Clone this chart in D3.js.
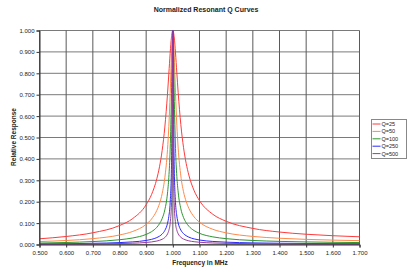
<!DOCTYPE html>
<html><head><meta charset="utf-8">
<script src="https://cdn.jsdelivr.net/npm/d3@7"></script>
<style>body{margin:0;background:#fff}svg{display:block;font-family:"Liberation Sans",Arial,sans-serif}</style>
</head><body><svg id="c" width="408" height="268"></svg>
<script>
const freq = [0.50,0.60,0.70,0.80,0.85,0.90,0.92,0.94,0.95,0.96,0.97,0.98,0.985,0.99,0.995,0.998,1.000,1.002,1.005,1.01,1.015,1.02,1.03,1.04,1.05,1.06,1.08,1.10,1.15,1.20,1.30,1.40,1.50,1.60,1.70];
const q25  = [0.0267,0.0375,0.0548,0.0885,0.1216,0.1861,0.2330,0.3074,0.3631,0.4398,0.5488,0.7035,0.7978,0.8935,0.9700,0.9950,1,0.9950,0.9703,0.8953,0.8021,0.7106,0.5603,0.4542,0.3792,0.3245,0.2513,0.2051,0.1412,0.1084,0.0752,0.0582,0.0479,0.0410,0.0360];
const q50  = [0.0133,0.0187,0.0274,0.0444,0.0612,0.0943,0.1189,0.1594,0.1913,0.2379,0.3119,0.4436,0.5518,0.7053,0.8940,0.9806,1,0.9806,0.8949,0.7089,0.5576,0.4507,0.3204,0.2470,0.2007,0.1691,0.1287,0.1042,0.0711,0.0545,0.0377,0.0292,0.0240,0.0205,0.0180];
const q100 = [0.0067,0.0094,0.0137,0.0222,0.0306,0.0473,0.0598,0.0805,0.0970,0.1215,0.1620,0.2402,0.3141,0.4454,0.7062,0.9283,1,0.9286,0.7080,0.4490,0.3183,0.2448,0.1668,0.1264,0.1019,0.0854,0.0648,0.0523,0.0357,0.0273,0.0188,0.0146,0.0120,0.0103,0.0090];
const q250 = [0.0027,0.0037,0.0055,0.0089,0.0123,0.0189,0.0240,0.0323,0.0389,0.0489,0.0655,0.0985,0.1312,0.1952,0.3706,0.7067,1,0.7075,0.3722,0.1971,0.1331,0.1005,0.0675,0.0509,0.0410,0.0343,0.0260,0.0209,0.0143,0.0109,0.0075,0.0058,0.0048,0.0041,0.0036];
const q500 = [0.0013,0.0019,0.0027,0.0044,0.0061,0.0095,0.0120,0.0162,0.0195,0.0245,0.0328,0.0494,0.0660,0.0990,0.1956,0.4469,1,0.4478,0.1966,0.1000,0.0670,0.0504,0.0338,0.0255,0.0205,0.0171,0.0130,0.0105,0.0071,0.0055,0.0038,0.0029,0.0024,0.0021,0.0018];
const seriesNames = ["Q=25","Q=50","Q=100","Q=250","Q=500"];
const seriesValues = [q25,q50,q100,q250,q500];
const seriesColors = ["#ff3b3b","#ff8a4a","#2e962e","#2a2aff","#9a3c9a"];
const xTicks = [0.5,0.6,0.7,0.8,0.9,1.0,1.1,1.2,1.3,1.4,1.5,1.6,1.7];
const yTicks = [0,0.1,0.2,0.3,0.4,0.5,0.6,0.7,0.8,0.9,1.0];

const svg = d3.select("#c");
const x = d3.scaleLinear().domain([0.5,1.7]).range([39.5,359.5]);
const y = d3.scaleLinear().domain([0,1]).range([244.5,30.5]);

// grid
svg.append("g").selectAll("line").data(yTicks).join("line")
  .attr("x1",x(0.5)).attr("x2",x(1.7)).attr("y1",d=>y(d)).attr("y2",d=>y(d))
  .attr("stroke","#7a7a7a").attr("stroke-width",1);
svg.append("g").selectAll("line").data(xTicks).join("line")
  .attr("y1",y(0)).attr("y2",y(1)).attr("x1",d=>x(d)).attr("x2",d=>x(d))
  .attr("stroke","#5a5a5a").attr("stroke-width",1);

// curves
const line = d3.line().x((d,i)=>x(freq[i])).y(d=>y(d)).curve(d3.curveMonotoneX);
seriesValues.forEach((vals,k)=>{
  svg.append("path").datum(vals).attr("d",line).attr("fill","none")
    .attr("stroke",seriesColors[k]).attr("stroke-width",1);
});

// axes
const xa = svg.append("g").attr("transform",`translate(0,${y(0)})`)
  .call(d3.axisBottom(x).tickValues(xTicks).tickFormat(d3.format(".3f")).tickSize(3).tickPadding(3));
const ya = svg.append("g").attr("transform",`translate(${x(0.5)},0)`)
  .call(d3.axisLeft(y).tickValues(yTicks).tickFormat(d3.format(".3f")).tickSize(3).tickPadding(2));
[xa,ya].forEach(a=>{
  a.select(".domain").attr("stroke","#333");
  a.selectAll(".tick line").attr("stroke","#333");
  a.selectAll("text").attr("font-size",6).attr("fill","#222").attr("font-family","Liberation Sans, Arial, sans-serif");
});

// titles
svg.append("text").attr("x",206).attr("y",12).attr("text-anchor","middle")
  .attr("font-size",7).attr("font-weight","bold").attr("fill","#222").text("Normalized Resonant Q Curves");
svg.append("text").attr("x",200).attr("y",265).attr("text-anchor","middle")
  .attr("font-size",6.5).attr("font-weight","bold").attr("fill","#222").text("Frequency in MHz");
svg.append("text").attr("transform","translate(16,137) rotate(-90)").attr("text-anchor","middle")
  .attr("font-size",6.5).attr("font-weight","bold").attr("fill","#222").text("Relative Response");

// legend
const lg = svg.append("g");
lg.append("rect").attr("x",371.5).attr("y",119.5).attr("width",35).attr("height",39)
  .attr("fill","#fff").attr("stroke","#888").attr("stroke-width",1);
seriesNames.forEach((n,k)=>{
  const yy = 124 + k*7.4;
  lg.append("line").attr("x1",372.5).attr("x2",380.5).attr("y1",yy).attr("y2",yy)
    .attr("stroke",seriesColors[k]).attr("stroke-width",1);
  lg.append("text").attr("x",381.5).attr("y",yy+2).attr("font-size",5.5).attr("fill","#222").text(n);
});
</script></body></html>
